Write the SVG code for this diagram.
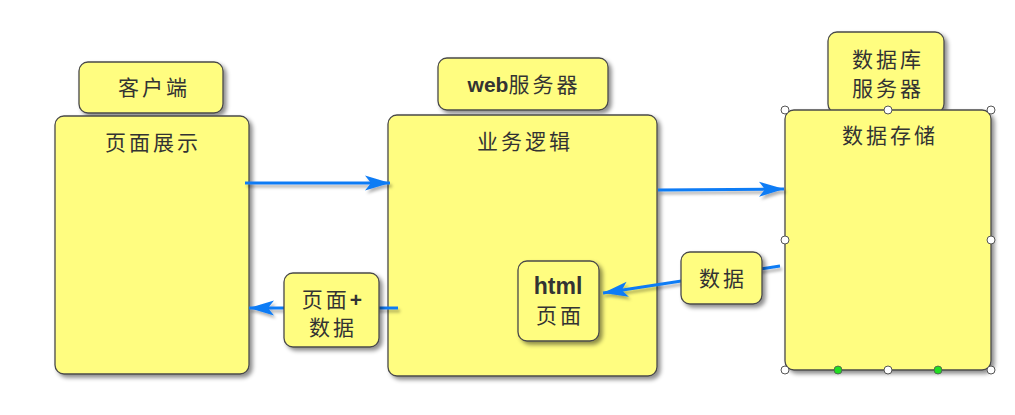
<svg xmlns="http://www.w3.org/2000/svg" width="1015" height="415" viewBox="0 0 1015 415">
<style>
.box{fill:#FFFD80;stroke:#4a4a4a;stroke-width:1.3;filter:url(#sh)}
.t{font-family:"Noto Sans CJK SC","Liberation Sans",sans-serif;font-size:21px;fill:#333;text-anchor:middle;letter-spacing:3px}
.b{font-family:"Liberation Sans","Noto Sans CJK SC",sans-serif;font-weight:bold;letter-spacing:0}
.c{fill:none;stroke:#0F7BF5;stroke-width:3;marker-end:url(#ah);filter:url(#sh2)}
.h{fill:#fff;stroke:#555;stroke-width:1}
.g{fill:#22DD22;stroke:#555;stroke-width:0.8}
</style>
<defs>
<filter id="sh" x="-20%" y="-20%" width="140%" height="140%">
<feDropShadow dx="3" dy="3" stdDeviation="2" flood-color="#000" flood-opacity="0.45"/>
</filter>
<filter id="sh2" filterUnits="userSpaceOnUse" x="0" y="0" width="1015" height="415">
<feDropShadow dx="2" dy="3" stdDeviation="1.5" flood-color="#000" flood-opacity="0.3"/>
</filter>
<marker id="ah" markerUnits="userSpaceOnUse" markerWidth="28" markerHeight="18" refX="25" refY="9" orient="auto">
<path d="M0,1.5 L25,9 L0,16.5 L6,9 Z" fill="#0F7BF5"/>
</marker>
</defs>
<rect width="1015" height="415" fill="#fff"/>
<g id="client-header"><rect class="box" x="79" y="62" width="144" height="51" rx="9"/><text class="t" x="154" y="95">客户端</text></g>
<g id="client"><rect class="box" x="55" y="116" width="194" height="258" rx="9"/><text class="t" x="153" y="150">页面展示</text></g>
<g id="web-header"><rect class="box" x="438" y="58" width="170" height="52" rx="9"/><text class="t" x="524" y="92"><tspan class="b">web</tspan>服务器</text></g>
<g id="web"><rect class="box" x="388" y="115" width="269" height="261" rx="9"/><text class="t" x="525" y="149">业务逻辑</text></g>
<g id="db-header"><rect class="box" x="828" y="32" width="116" height="81" rx="9"/><text class="t" x="888" y="67">数据库</text><text class="t" x="888" y="96">服务器</text></g>
<g id="db"><rect class="box" x="785" y="110" width="206" height="260" rx="9"/><text class="t" x="890" y="143">数据存储</text>
<circle class="h" cx="785" cy="110" r="4"/><circle class="h" cx="888" cy="110" r="4"/><circle class="h" cx="991" cy="110" r="4"/>
<circle class="h" cx="785" cy="240" r="4"/><circle class="h" cx="991" cy="240" r="4"/>
<circle class="h" cx="785" cy="370" r="4"/><circle class="h" cx="888" cy="370" r="4"/><circle class="h" cx="991" cy="370" r="4"/>
<circle class="g" cx="838" cy="370" r="4"/><circle class="g" cx="938" cy="370" r="4"/>
</g>
<g id="html-page"><rect class="box" x="518" y="261" width="81" height="80" rx="9"/><text class="t b" x="558" y="294" style="font-size:23px">html</text><text class="t" x="560" y="323">页面</text></g>
<g id="connectors">
<path class="c" d="M245,183 L390,183"/>
<path class="c" d="M398,308 L249,308"/>
<path class="c" d="M658,190 L784,189"/>
<path class="c" d="M780,266 L603,293"/>
</g>
<g id="page-data"><rect class="box" x="284" y="273" width="95" height="74" rx="9"/><text class="t" x="332" y="307">页面<tspan class="b">+</tspan></text><text class="t" x="333" y="335">数据</text></g>
<g id="data-label"><rect class="box" x="681" y="252" width="81" height="52" rx="9"/><text class="t" x="723" y="286">数据</text></g>
</svg>
